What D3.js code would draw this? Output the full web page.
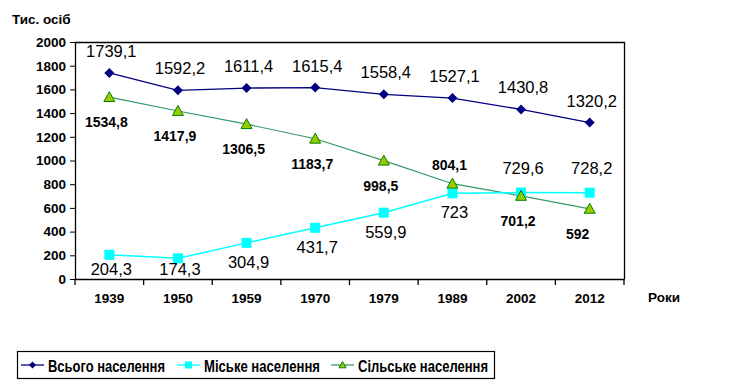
<!DOCTYPE html>
<html>
<head>
<meta charset="utf-8">
<script src="https://cdn.jsdelivr.net/npm/d3@7"></script>
<style>
  body { margin: 0; background: #fff; }
  svg { display: block; font-family: Arial, "Liberation Sans", sans-serif; }
</style>
</head>
<body>
<div id="chart"></div>
<script>
const years = ['1939', '1950', '1959', '1970', '1979', '1989', '2002', '2012'];
const total = [1739.1, 1592.2, 1611.4, 1615.4, 1558.4, 1527.1, 1430.8, 1320.2];
const urban = [204.3, 174.3, 304.9, 431.7, 559.9, 723, 729.6, 728.2];
const rural = [1534.8, 1417.9, 1306.5, 1183.7, 998.5, 804.1, 701.2, 592];
const yTicks = [0, 200, 400, 600, 800, 1000, 1200, 1400, 1600, 1800, 2000];
const seriesNames = ['Всього населення', 'Міське населення', 'Сільське населення'];

const width = 735, height = 389;
const margin = { top: 42, right: 111, bottom: 110, left: 75 };
const chartWidth = width - margin.left - margin.right;
const chartHeight = height - margin.top - margin.bottom;

const svg = d3.select('#chart').append('svg')
  .attr('width', width)
  .attr('height', height);

const g = svg.append('g')
  .attr('transform', `translate(${margin.left},${margin.top})`);

const x = d3.scaleBand().domain(years).range([0, chartWidth]).padding(0);
const y = d3.scaleLinear().domain([0, 2000]).range([chartHeight, 0]);
const cx = d => x(d) + x.bandwidth() / 2;

const fmt = v => String(v).replace('.', ',');

// plot area border (top + right)
g.append('path')
  .attr('d', `M0,0.5H${chartWidth + 0.5}V${chartHeight}`)
  .attr('fill', 'none')
  .attr('stroke', '#000')
  .attr('stroke-width', 1.3);

// y axis
const yAxis = g.append('g')
  .call(d3.axisLeft(y).tickValues(yTicks).tickFormat(d3.format('d'))
    .tickSize(5).tickSizeOuter(0).tickPadding(4));
yAxis.select('.domain').attr('stroke', '#000').attr('stroke-width', 1.3);
yAxis.selectAll('text')
  .attr('font-size', 13.5).attr('font-weight', 'bold').attr('fill', '#000')
  .attr('font-family', 'Arial, "Liberation Sans", sans-serif');

// x axis
const xAxis = g.append('g')
  .attr('transform', `translate(0,${chartHeight})`)
  .call(d3.axisBottom(x).tickSize(0).tickPadding(14));
xAxis.select('.domain').attr('stroke', '#000').attr('stroke-width', 1.3);
xAxis.selectAll('text')
  .attr('font-size', 13.5).attr('font-weight', 'bold').attr('fill', '#000')
  .attr('font-family', 'Arial, "Liberation Sans", sans-serif');
const bounds = years.map(d => x(d)).concat([chartWidth]);
xAxis.selectAll('.bound').data(bounds).enter().append('line')
  .attr('class', 'bound')
  .attr('x1', d => d).attr('x2', d => d)
  .attr('y1', 0).attr('y2', 6)
  .attr('stroke', '#000').attr('stroke-width', 1.3);

// axis titles
svg.append('text')
  .attr('x', 12).attr('y', 24)
  .attr('font-size', 13.5).attr('font-weight', 'bold')
  .text('Тис. осіб');
svg.append('text')
  .attr('x', 648).attr('y', 302)
  .attr('font-size', 13.5).attr('font-weight', 'bold')
  .text('Роки');

const line = d3.line().x((d, i) => cx(years[i])).y(d => y(d));

function diamond(sel, size) {
  sel.attr('d', `M0,${-size}L${size},0L0,${size}L${-size},0Z`);
}
function square(sel, size) {
  sel.attr('d', `M${-size},${-size}H${size}V${size}H${-size}Z`);
}
function triangle(sel, size) {
  sel.attr('d', `M0,${-size}L${size},${size * 0.8}H${-size}Z`);
}

// rural
g.append('path').datum(rural)
  .attr('fill', 'none').attr('stroke', '#339966').attr('stroke-width', 1.2)
  .attr('d', line);
// urban
g.append('path').datum(urban)
  .attr('fill', 'none').attr('stroke', '#00ffff').attr('stroke-width', 1.5)
  .attr('d', line);
// total
g.append('path').datum(total)
  .attr('fill', 'none').attr('stroke', '#000080').attr('stroke-width', 1.3)
  .attr('d', line);

g.selectAll('.m-urban').data(urban).enter().append('path')
  .attr('class', 'm-urban')
  .attr('transform', (d, i) => `translate(${cx(years[i])},${y(d)})`)
  .attr('fill', '#00ffff')
  .call(square, 5);

g.selectAll('.m-rural').data(rural).enter().append('path')
  .attr('class', 'm-rural')
  .attr('transform', (d, i) => `translate(${cx(years[i])},${y(d)})`)
  .attr('fill', '#99cc00').attr('stroke', '#008000').attr('stroke-width', 1)
  .call(triangle, 5.5);

g.selectAll('.m-total').data(total).enter().append('path')
  .attr('class', 'm-total')
  .attr('transform', (d, i) => `translate(${cx(years[i])},${y(d)})`)
  .attr('fill', '#000080')
  .call(diamond, 5);

// value labels
g.selectAll('.l-total').data(total).enter().append('text')
  .attr('class', 'l-total')
  .attr('x', (d, i) => cx(years[i]) + 2)
  .attr('y', d => y(d) - 16)
  .attr('text-anchor', 'middle')
  .attr('font-size', 16.5)
  .text(fmt);

g.selectAll('.l-urban').data(urban).enter().append('text')
  .attr('class', 'l-urban')
  .attr('x', (d, i) => cx(years[i]) + 2)
  .attr('y', (d, i) => i >= 6 ? y(d) - 19 : Math.min(y(d) + 25, chartHeight - 4))
  .attr('text-anchor', 'middle')
  .attr('font-size', 16.5)
  .text(fmt);

g.selectAll('.l-rural').data(rural).enter().append('text')
  .attr('class', 'l-rural')
  .attr('x', (d, i) => cx(years[i]) - (i === 7 ? 12 : 3))
  .attr('y', (d, i) => i === 5 ? y(d) - 14 : y(d) + 30)
  .attr('text-anchor', 'middle')
  .attr('font-size', 14).attr('font-weight', 'bold')
  .text(fmt);

// legend
const legend = svg.append('g');
legend.append('rect')
  .attr('x', 17.5).attr('y', 351.5).attr('width', 477).attr('height', 27)
  .attr('fill', '#fff').attr('stroke', '#000').attr('stroke-width', 1.2);

const legendItems = [
  { x: 21, color: '#000080', shape: diamond, fill: '#000080', stroke: 'none', tx: 48, tw: 117 },
  { x: 177, color: '#00ffff', shape: square, fill: '#00ffff', stroke: 'none', tx: 204, tw: 116 },
  { x: 331, color: '#339966', shape: triangle, fill: '#99cc00', stroke: '#008000', tx: 358, tw: 130 }
];
legendItems.forEach((it, i) => {
  const ly = 365;
  legend.append('line')
    .attr('x1', it.x).attr('x2', it.x + 23)
    .attr('y1', ly).attr('y2', ly)
    .attr('stroke', it.color).attr('stroke-width', 1.3);
  legend.append('path')
    .attr('transform', `translate(${it.x + 11.5},${ly})`)
    .attr('fill', it.fill).attr('stroke', it.stroke)
    .call(it.shape, 3.5);
  legend.append('text')
    .attr('x', it.tx).attr('y', ly + 6.5)
    .attr('font-size', 17).attr('font-weight', 'bold')
    .attr('textLength', it.tw).attr('lengthAdjust', 'spacingAndGlyphs')
    .text(seriesNames[i]);
});
</script>
</body>
</html>
